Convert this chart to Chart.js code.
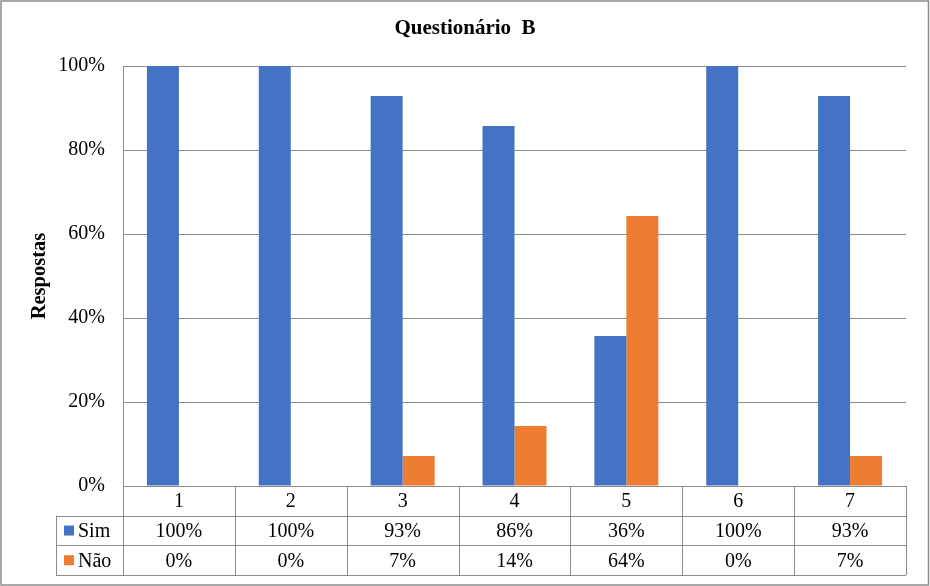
<!DOCTYPE html>
<html>
<head>
<meta charset="utf-8">
<script src="https://cdn.jsdelivr.net/npm/chart.js@4.4.0/dist/chart.umd.min.js"></script>
<style>
    body { margin: 0; background: #fff; }
    #wrap { width: 930px; height: 586px; position: relative; }
</style>
</head>
<body>
<div id="wrap"><canvas id="chart"></canvas></div>
<script>
// data (14 answers per question)
const categories = ['1', '2', '3', '4', '5', '6', '7'];
const simValues = [100, 100, 92.86, 85.71, 35.71, 100, 92.86];
const naoValues = [0, 0, 7.14, 14.29, 64.29, 0, 7.14];
const seriesNames = ['Sim', 'Não'];
const seriesColors = ['#4472C4', '#ED7D31'];
const yTicks = [0, 20, 40, 60, 80, 100];

const serif = '"Liberation Serif", "Times New Roman", serif';
const lineGray = '#8c8c8c';

// draws the outer frame and the data table under the bars
const tablePlugin = {
    id: 'dataTable',
    beforeDraw(chart) {
        const ctx = chart.ctx;
        ctx.save();
        ctx.fillStyle = '#fff';
        ctx.fillRect(0, 0, chart.width, chart.height);
        ctx.strokeStyle = lineGray;
        ctx.lineWidth = 1.5;
        ctx.strokeRect(1, 1, chart.width - 2.5, chart.height - 2);
        ctx.restore();
    },
    afterDraw(chart) {
        const ctx = chart.ctx;
        const area = chart.chartArea;
        const n = categories.length;
        const colW = (area.right - area.left) / n;
        const rowH = 29.7;
        const rows = [area.bottom, area.bottom + rowH, area.bottom + rowH * 2, area.bottom + rowH * 3];
        const tableLeft = 56;

        ctx.save();
        ctx.strokeStyle = lineGray;
        ctx.lineWidth = 1;
        ctx.beginPath();
        ctx.moveTo(area.left, Math.round(rows[0]) + 0.5);
        ctx.lineTo(area.right, Math.round(rows[0]) + 0.5);
        for (let r = 1; r < rows.length; r++) {
            ctx.moveTo(tableLeft, Math.round(rows[r]) + 0.5);
            ctx.lineTo(area.right, Math.round(rows[r]) + 0.5);
        }
        for (let i = 0; i <= n; i++) {
            const x = Math.round(area.left + i * colW) + 0.5;
            ctx.moveTo(x, rows[0]);
            ctx.lineTo(x, rows[3]);
        }
        ctx.moveTo(tableLeft + 0.5, rows[1]);
        ctx.lineTo(tableLeft + 0.5, rows[3]);
        ctx.stroke();

        // cell texts
        ctx.fillStyle = '#000';
        ctx.font = '20px ' + serif;
        ctx.textAlign = 'center';
        ctx.textBaseline = 'middle';
        const xs = chart.scales.x;
        const rowData = [simValues, naoValues];
        categories.forEach((c, i) => {
            const cx = xs.getPixelForValue(i);
            ctx.fillText(c, cx, (rows[0] + rows[1]) / 2 + 1);
            rowData.forEach((vals, r) => {
                ctx.fillText(Math.round(vals[i]) + '%', cx, (rows[r + 1] + rows[r + 2]) / 2 + 1);
            });
        });

        // legend keys in the first column
        ctx.textAlign = 'left';
        seriesNames.forEach((name, r) => {
            const cy = (rows[r + 1] + rows[r + 2]) / 2;
            ctx.fillStyle = seriesColors[r];
            ctx.fillRect(64, cy - 5, 10, 10);
            ctx.fillStyle = '#000';
            ctx.fillText(name, 78, cy + 1);
        });
        ctx.restore();
    }
};

const ctx = document.getElementById('chart').getContext('2d');
const chart = new Chart(ctx, {
    type: 'bar',
    data: {
        labels: categories,
        datasets: [
            { label: seriesNames[0], data: simValues, backgroundColor: seriesColors[0] },
            { label: seriesNames[1], data: naoValues, backgroundColor: seriesColors[1] }
        ]
    },
    options: {
        responsive: true,
        maintainAspectRatio: false,
        animation: false,
        layout: { padding: { left: 24, right: 24, top: 0, bottom: 0 } },
        datasets: { bar: { categoryPercentage: 0.572, barPercentage: 1 } },
        plugins: {
            legend: { display: false },
            tooltip: { enabled: false },
            title: {
                display: true,
                text: 'Questionário  B',
                color: '#000',
                font: { family: serif, size: 21, weight: 'bold' },
                padding: { top: 16.4, bottom: 24.4 }
            }
        },
        scales: {
            x: {
                grid: { display: false },
                border: { display: false },
                ticks: { display: false },
                afterFit(scale) { scale.height = 100; }
            },
            y: {
                min: 0,
                max: 100,
                afterBuildTicks(scale) { scale.ticks = yTicks.map(v => ({ value: v })); },
                ticks: {
                    color: '#000',
                    font: { family: serif, size: 20 },
                    padding: 18,
                    callback: v => v + '%'
                },
                grid: { color: lineGray, drawTicks: false },
                border: { display: true, color: lineGray },
                title: {
                    display: true,
                    text: 'Respostas',
                    color: '#000',
                    font: { family: serif, size: 20.5, weight: 'bold' },
                    padding: { top: 3.7, bottom: 0 }
                },
                afterFit(scale) { scale.width = 99; }
            }
        }
    },
    plugins: [tablePlugin]
});
</script>
</body>
</html>
